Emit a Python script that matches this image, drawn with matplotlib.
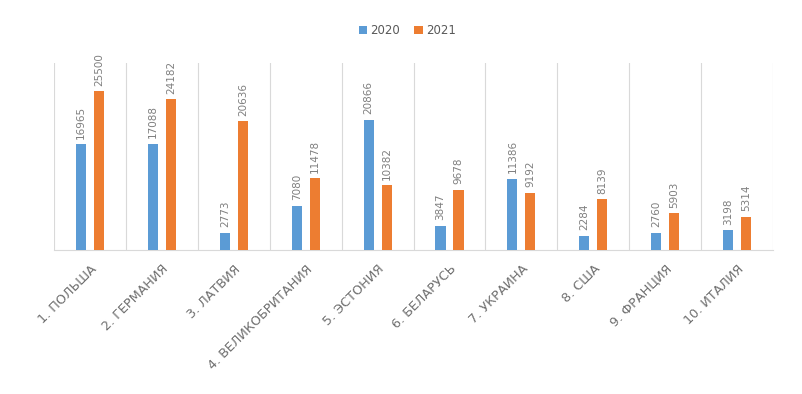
import numpy as np
import matplotlib.pyplot as plt

categories = ["1. ПОЛЬША", "2. ГЕРМАНИЯ", "3. ЛАТВИЯ", "4. ВЕЛИКОБРИТАНИЯ", "5. ЭСТОНИЯ",
              "6. БЕЛАРУСЬ", "7. УКРАИНА", "8. США", "9. ФРАНЦИЯ", "10. ИТАЛИЯ"]
values_2020 = [16965, 17088, 2773, 7080, 20866, 3847, 11386, 2284, 2760, 3198]
values_2021 = [25500, 24182, 20636, 11478, 10382, 9678, 9192, 8139, 5903, 5314]

blue = "#5B9BD5"
orange = "#ED7D31"
gray = "#7F7F7F"

fig = plt.figure(figsize=(8.02, 3.94), dpi=100)
ax = fig.add_axes([0.0673, 0.3655, 0.8967, 0.4745])

x = np.arange(len(categories))
w = 0.14
off = 0.125
b1 = ax.bar(x - off, values_2020, w, color=blue, label="2020", zorder=3)
b2 = ax.bar(x + off, values_2021, w, color=orange, label="2021", zorder=3)

for bars in (b1, b2):
    for rect in bars:
        h = rect.get_height()
        ax.annotate(f"{int(h)}", (rect.get_x() + rect.get_width() / 2, h),
                    xytext=(0, 4), textcoords="offset points",
                    rotation=90, ha="center", va="bottom",
                    fontsize=7.5, color=gray)

ax.set_xlim(-0.5, len(categories) - 0.5)
ax.set_ylim(0, 30000)

# vertical separators between categories
for b in np.arange(-0.5, len(categories) + 0.5, 1):
    ax.axvline(b, color="#D9D9D9", lw=0.8, zorder=1)

for s in ["top", "right", "left"]:
    ax.spines[s].set_visible(False)
ax.spines["bottom"].set_color("#D9D9D9")
ax.set_yticks([])
ax.set_xticks(x)
ax.set_xticklabels(categories, rotation=45, ha="right", rotation_mode="anchor",
                   fontsize=9.2, color="#6F6F6F")
ax.tick_params(axis="x", length=0, pad=9)

fig.legend(loc="upper center", bbox_to_anchor=(0.508, 0.965), ncol=2, frameon=False,
           fontsize=8.5, handlelength=0.7, handleheight=0.7, columnspacing=1.2,
           handletextpad=0.3, labelcolor="#595959")

fig.savefig("out.png", dpi=100)
